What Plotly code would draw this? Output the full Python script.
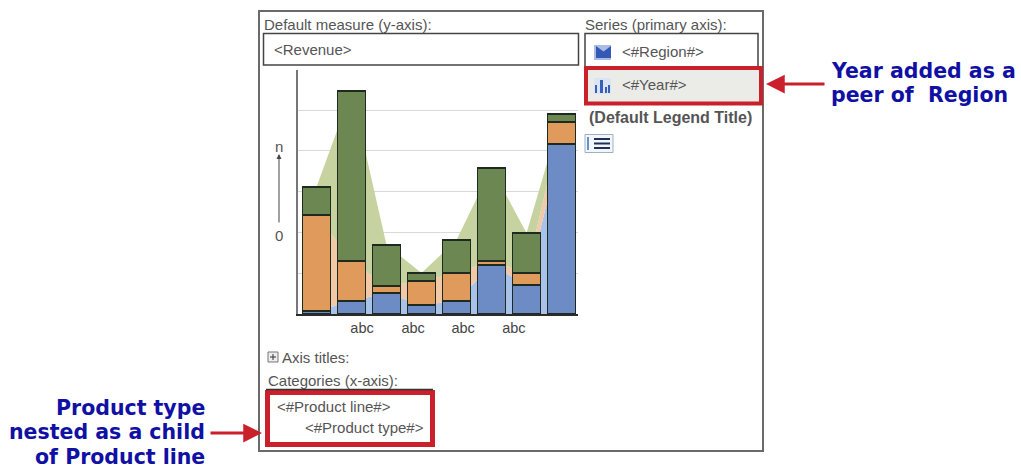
import plotly.graph_objects as go

W, H = 1021, 468

# Stacked measure values for each category, bottom to top
categories = [0, 1, 2, 3, 4, 5, 6, 7]
region_a = [3, 13, 21, 9, 13, 49, 29, 170]
region_b = [96, 40, 7, 24, 28, 4, 12, 22]
region_c = [28, 170, 41, 8, 33, 93, 40, 8]
tick_positions = [1.3, 2.76, 4.19, 5.64]
tick_labels = ["abc", "abc", "abc", "abc"]

BAR_COLORS = ["#6d8cc6", "#df9a5c", "#6c8752"]
AREA_COLORS = ["#a9c2ea", "#f2c9a6", "#c6d3a0"]
series = [region_a, region_b, region_c]
TEXT = "#555555"
RED = "#c9202c"
BLUE = "#1010a4"
X_RANGE = [-0.529, 7.471]
Y_RANGE = [0, 244]


def px(x):
    return x / W


def py(y):
    return 1 - y / H


fig = go.Figure()

# Pale stacked area sitting behind the columns
for values, color in zip(series, AREA_COLORS):
    fig.add_trace(go.Scatter(
        x=categories, y=values, mode="lines", stackgroup="area",
        line=dict(width=0, color=color), fillcolor=color, hoverinfo="skip",
    ))

# Columns live on an overlaid axis pair so they draw above the area
for values, color in zip(series, BAR_COLORS):
    fig.add_trace(go.Bar(
        x=categories, y=values, xaxis="x2", yaxis="y2",
        marker=dict(color=color, line=dict(color="#1e2a20", width=1.5)),
    ))


def box(x0, y0, x1, y1, line="#444444", width=1.5, fill=None, layer="below"):
    return dict(type="rect", xref="paper", yref="paper", layer=layer,
                x0=px(x0), x1=px(x1), y0=py(y1), y1=py(y0),
                line=dict(color=line, width=width),
                fillcolor=fill if fill else "rgba(0,0,0,0)")


def bar_icon(x0, y0, x1, y1, color):
    return dict(type="rect", xref="paper", yref="paper",
                x0=px(x0), x1=px(x1), y0=py(y1), y1=py(y0),
                line=dict(width=0), fillcolor=color)


def rule(x0, y0, x1, y1, color, width=1.0):
    return dict(type="line", xref="paper", yref="paper",
                x0=px(x0), x1=px(x1), y0=py(y0), y1=py(y1),
                line=dict(color=color, width=width))


def flag_icon(x0, y0, x1, y1, color):
    # Pennant outline with a notch cut into its top edge
    xm = (x0 + x1) / 2
    ym = y0 + (y1 - y0) * 0.45
    points = [(x0, y0), (xm, ym), (x1, y0), (x1, y1), (x0, y1)]
    path = "M" + " L".join(f"{px(a):.5f},{py(b):.5f}" for a, b in points) + " Z"
    return dict(type="path", xref="paper", yref="paper", path=path,
                line=dict(width=0), fillcolor=color)


shapes = [
    box(259, 11, 763, 451, line="#6a6a6a", width=2),
    box(263.5, 33.5, 578.5, 65),
    box(585, 33.5, 758, 67),
    box(586, 68, 761, 103.5, line=RED, width=4, fill="#ebebe8"),
    rule(266, 389.5, 433, 389.5, "#333333", 1.5),
    box(267.5, 392.5, 432.5, 444.5, line=RED, width=5, fill="#ffffff"),
    # Region icon
    bar_icon(594, 45, 611, 60, "#a9bde6"),
    flag_icon(596, 46, 611, 58, "#3558b4"),
    # Year icon
    bar_icon(594, 78, 611, 94, "#dbe4f4"),
    bar_icon(595, 85, 597, 93, "#3a5fb8"),
    bar_icon(600, 80, 603, 93, "#3a5fb8"),
    bar_icon(605, 87, 607, 93, "#3a5fb8"),
    bar_icon(608, 85, 610, 93, "#3a5fb8"),
    # Legend-position button
    box(585, 134.5, 613, 152.5, line="#9fb0bf", width=1, fill="#f2f6fa"),
    rule(594, 139, 610, 139, "#1f2f55", 2),
    rule(594, 143.5, 610, 143.5, "#1f2f55", 2),
    rule(594, 148, 610, 148, "#1f2f55", 2),
    rule(588, 137, 588, 150, "#3a6fb8", 1.5),
    # Expand toggle next to the axis titles label
    box(268, 352, 278, 362, line="#777777", width=1, fill="#eeeeee"),
    rule(270, 357, 276, 357, "#333333", 1),
    rule(273, 354, 273, 360, "#333333", 1),
]


def label(x, y, text, size=15, color=TEXT, bold=False, family="Liberation Sans", anchor="left"):
    return dict(xref="paper", yref="paper", x=px(x), y=py(y), text=text,
                showarrow=False, xanchor=anchor, yanchor="middle", borderpad=0,
                borderwidth=0, font=dict(size=size, color=color, family=family,
                                         weight="bold" if bold else "normal"))


def arrow(x_tip, y_tip, x_tail, y_tail, color, width, head, scale):
    return dict(xref="paper", yref="paper", x=px(x_tip), y=py(y_tip), text="",
                showarrow=True, axref="pixel", ayref="pixel",
                ax=x_tail - x_tip, ay=y_tail - y_tip, arrowcolor=color,
                arrowwidth=width, arrowhead=head, arrowsize=scale, standoff=0)


callout = dict(size=20.5, color=BLUE, bold=True, family="DejaVu Sans")
annotations = [
    label(264, 24, "Default measure (y-axis):"),
    label(274, 50, "&lt;Revenue&gt;"),
    label(585, 24, "Series (primary axis):"),
    label(622, 51, "&lt;#Region#&gt;"),
    label(622, 84, "&lt;#Year#&gt;"),
    label(589, 117, "(Default Legend Title)", size=16, bold=True),
    label(282, 357, "Axis titles:"),
    label(268, 380, "Categories (x-axis):"),
    label(277, 406, "&lt;#Product line#&gt;"),
    label(305, 427, "&lt;#Product type#&gt;"),
    label(279, 146, "n", anchor="center"),
    label(279, 235, "0", anchor="center"),
    label(831, 71, "Year added as a", **callout),
    label(831, 95, "peer of  Region", **callout),
    label(205, 408, "Product type", anchor="right", **callout),
    label(205, 432, "nested as a child", anchor="right", **callout),
    label(205, 457, "of Product line", anchor="right", **callout),
    arrow(279, 154, 279, 224, "#444444", 1, 2, 1),
    arrow(766, 84, 826, 84, RED, 3, 2, 1.25),
    arrow(262, 433, 209, 433, RED, 3, 2, 1.25),
]

fig.update_layout(
    width=W, height=H, autosize=False,
    margin=dict(l=0, r=0, t=0, b=0),
    paper_bgcolor="#ffffff", plot_bgcolor="rgba(0,0,0,0)",
    barmode="stack", bargap=0.2, showlegend=False,
    shapes=shapes, annotations=annotations,
    xaxis=dict(
        domain=[px(298), px(578)], range=X_RANGE,
        tickmode="array", tickvals=tick_positions, ticktext=tick_labels,
        ticks="", showgrid=False, zeroline=False,
        showline=True, linecolor="#2b2b2b", linewidth=2,
        tickfont=dict(size=14.5, color="#444444", family="Liberation Sans"),
    ),
    yaxis=dict(
        domain=[py(314), py(70)], range=Y_RANGE,
        tick0=0, dtick=40.8, showticklabels=False, ticks="",
        showgrid=True, gridcolor="#d9d9d9", gridwidth=1, zeroline=False,
        showline=True, linecolor="#777777", linewidth=2,
    ),
    xaxis2=dict(
        domain=[px(298), px(578)], range=X_RANGE, overlaying="x", anchor="y2",
        visible=False,
    ),
    yaxis2=dict(
        domain=[py(314), py(70)], range=Y_RANGE, overlaying="y", anchor="x2",
        visible=False,
    ),
)

fig.write_html("out.html")
